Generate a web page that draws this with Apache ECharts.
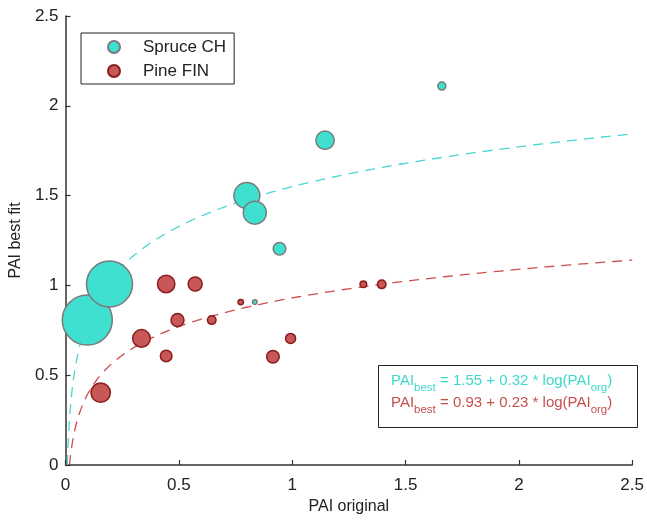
<!DOCTYPE html>
<html>
<head>
<meta charset="utf-8">
<script src="https://cdn.jsdelivr.net/npm/echarts@6/dist/echarts.min.js"></script>
<style>html,body{margin:0;padding:0;background:#fff}#c{width:647px;height:520px}</style>
</head>
<body>
<div id="c"></div>
<script>
// ---- data ----
const seriesNames = ['Spruce CH', 'Pine FIN'];
const spruceX = [0.096, 0.194, 0.80, 0.835, 0.944, 1.145, 1.66, 0.835];
const spruceY = [0.807, 1.008, 1.50, 1.405, 1.204, 1.808, 2.11, 0.907];
const spruceW = [25, 23, 13, 11.5, 6.3, 9.2, 4, 2.3];
const pineX = [0.155, 0.335, 0.444, 0.572, 0.494, 0.444, 0.645, 0.773, 1.314, 1.395, 0.993, 0.915];
const pineY = [0.403, 0.705, 1.008, 1.008, 0.807, 0.607, 0.807, 0.907, 1.006, 1.006, 0.705, 0.603];
const pineW = [9.7, 8.8, 8.7, 7, 6.5, 5.8, 4.3, 2.7, 3.3, 4.3, 5, 6.3];
// fit: PAI_best = a + b * log(PAI_org)
const spruceFit = [1.55, 0.32];
const pineFit = [0.93, 0.23];
const xTicks = [0, 0.5, 1, 1.5, 2, 2.5];
const yTicks = [0, 0.5, 1, 1.5, 2, 2.5];

const FONT = "'Liberation Sans', Arial, sans-serif";
const CYAN = '#40E0D0', RED = '#C85757';

function pts(xs, ys, ws) { return xs.map((x, i) => [x, ys[i], ws[i]]); }
function fitCurve(c) {
  const x0 = Math.exp(-c[0] / c[1]), x1 = xTicks[xTicks.length - 1];
  const out = [];
  const n = 300;
  for (let i = 0; i <= n; i++) {
    const x = x0 * Math.pow(x1 / x0, i / n);
    out.push([x, c[0] + c[1] * Math.log(x)]);
  }
  return out;
}

const chart = echarts.init(document.getElementById('c'), null, {renderer: 'canvas'});
const axisCommon = {
  type: 'value', min: 0, max: 2.5, interval: 0.5,
  axisLine: {show: true, lineStyle: {color: '#333', width: 1.5}},
  axisTick: {show: true, inside: true, length: 5, lineStyle: {color: '#333', width: 1.2}},
  splitLine: {show: false},
  axisLabel: {color: '#222', fontSize: 17, fontFamily: FONT},
  nameTextStyle: {color: '#222', fontSize: 16, fontFamily: FONT},
  nameLocation: 'middle'
};
chart.setOption({
  animation: false,
  backgroundColor: '#fff',
  grid: {left: 63, right: 14, top: 16, bottom: 55},
  xAxis: Object.assign({}, axisCommon, {name: 'PAI original', nameGap: 33,
    axisLabel: Object.assign({}, axisCommon.axisLabel, {margin: 12})}),
  yAxis: Object.assign({}, axisCommon, {name: 'PAI best fit', nameGap: 32,
    axisLabel: Object.assign({}, axisCommon.axisLabel, {margin: 7})}),
  legend: {
    data: seriesNames, orient: 'vertical', left: 81, top: 33,
    padding: [4, 8, 3, 26], itemGap: 4, itemWidth: 12, itemHeight: 12,
    borderColor: '#222', borderWidth: 1, borderRadius: 0,
    icon: 'circle',
    textStyle: {color: '#222', fontSize: 17, fontFamily: FONT, lineHeight: 20, padding: [0, 0, 0, 18]}
  },
  series: [
    {type: 'line', data: fitCurve(spruceFit), showSymbol: false, symbol: 'none', silent: true, z: 1,
      lineStyle: {color: '#48D8D0', width: 1.3, type: [10, 7]}},
    {type: 'line', data: fitCurve(pineFit), showSymbol: false, symbol: 'none', silent: true, z: 1,
      lineStyle: {color: '#CC4E4E', width: 1.3, type: [10, 7]}},
    {name: seriesNames[0], type: 'scatter', data: pts(spruceX, spruceY, spruceW), z: 3,
      symbolSize: d => d[2] * 2,
      itemStyle: {color: CYAN, borderColor: '#7a7a7a', borderWidth: 1.5, opacity: 1}},
    {name: seriesNames[1], type: 'scatter', data: pts(pineX, pineY, pineW), z: 3,
      symbolSize: d => d[2] * 2,
      itemStyle: {color: RED, borderColor: '#8B1C1C', borderWidth: 1.5, opacity: 1}}
  ],
  graphic: [
    {type: 'rect', left: 378, top: 365, shape: {width: 259, height: 62},
      style: {fill: '#fff', stroke: '#222', lineWidth: 1}, z: 10},
    {type: 'text', left: 391, top: 373, z: 11,
      style: {text: '{m|PAI}{s|best}{m| = 1.55 + 0.32 * log(PAI}{s|org}{m|)}',
        rich: {m: {fontSize: 15, fontFamily: FONT, fill: '#3ED8CA'},
               s: {fontSize: 11.5, fontFamily: FONT, fill: '#3ED8CA', padding: [15, 0, 0, 0]}}}},
    {type: 'text', left: 391, top: 395, z: 11,
      style: {text: '{m|PAI}{s|best}{m| = 0.93 + 0.23 * log(PAI}{s|org}{m|)}',
        rich: {m: {fontSize: 15, fontFamily: FONT, fill: '#C4504E'},
               s: {fontSize: 11.5, fontFamily: FONT, fill: '#C4504E', padding: [15, 0, 0, 0]}}}}
  ]
});
</script>
</body>
</html>
